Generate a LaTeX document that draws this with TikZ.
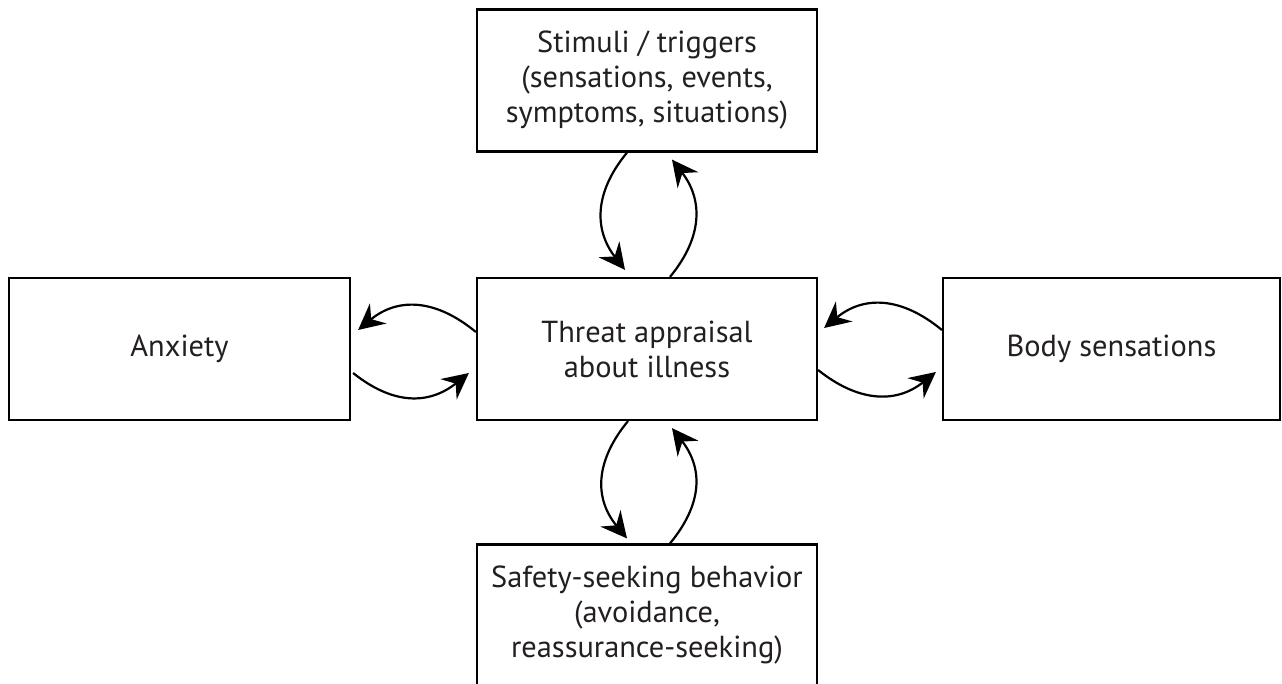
\documentclass[tikz,border=0pt]{standalone}
\usepackage{fontspec}
\setmainfont{PT Sans}
\usetikzlibrary{arrows.meta,calc}
\definecolor{ink}{HTML}{231F20}
\begin{document}
\begin{tikzpicture}[x=0.5pt,y=-0.5pt,
  box/.style={draw=black,line width=1.1pt,minimum width=170pt,minimum height=71pt,
    align=center,text=ink,font=\fontsize{15.2}{17.5}\selectfont,inner sep=0pt},
  loop/.style={line width=1.1pt,-{Stealth[length=13pt,width=13pt,inset=4.5pt]}}]
\useasboundingbox (0,0) rectangle (1282,684);
\node[box] (top) at (647,80.5) {Stimuli / triggers\\(sensations, events,\\symptoms, situations)};
\node[box] (mid) at (647,349) {Threat appraisal\\about illness};
\node[box,minimum width=170.5pt] (left) at (179.5,349) {Anxiety};
\node[box,minimum width=168.5pt] (right) at (1111.5,349) {Body sensations};
\node[box] (bot) at (647,615.5) {Safety-seeking behavior\\(avoidance,\\reassurance-seeking)};
% top pair
\draw[loop] ($(top.south)+(-20,0)$) .. controls +(-33,40) and +(-31,-40) .. ($(mid.north)+(-22,-7)$);
\draw[loop] ($(mid.north)+(23,0)$) .. controls +(33,-40) and +(31,40) .. ($(top.south)+(25,7)$);
% left pair
\draw[loop] ($(mid.west)+(0,-17)$) .. controls +(-40,-33) and +(40,-33) .. ($(left.east)+(7,-19)$);
\draw[loop] ($(left.east)+(2,24)$) .. controls +(40,32) and +(-40,32) .. ($(mid.west)+(-7,24)$);
% right pair
\draw[loop] ($(right.west)+(0,-19)$) .. controls +(-40,-33) and +(40,-33) .. ($(mid.east)+(6,-21)$);
\draw[loop] ($(mid.east)+(0,21)$) .. controls +(40,32) and +(-40,32) .. ($(right.west)+(-6,23)$);
% bottom pair
\draw[loop] ($(mid.south)+(-19,0)$) .. controls +(-33,40) and +(-33,-40) .. ($(bot.north)+(-20,-5)$);
\draw[loop] ($(bot.north)+(23,0)$) .. controls +(33,-40) and +(31,40) .. ($(mid.south)+(25,7)$);
\end{tikzpicture}
\end{document}
